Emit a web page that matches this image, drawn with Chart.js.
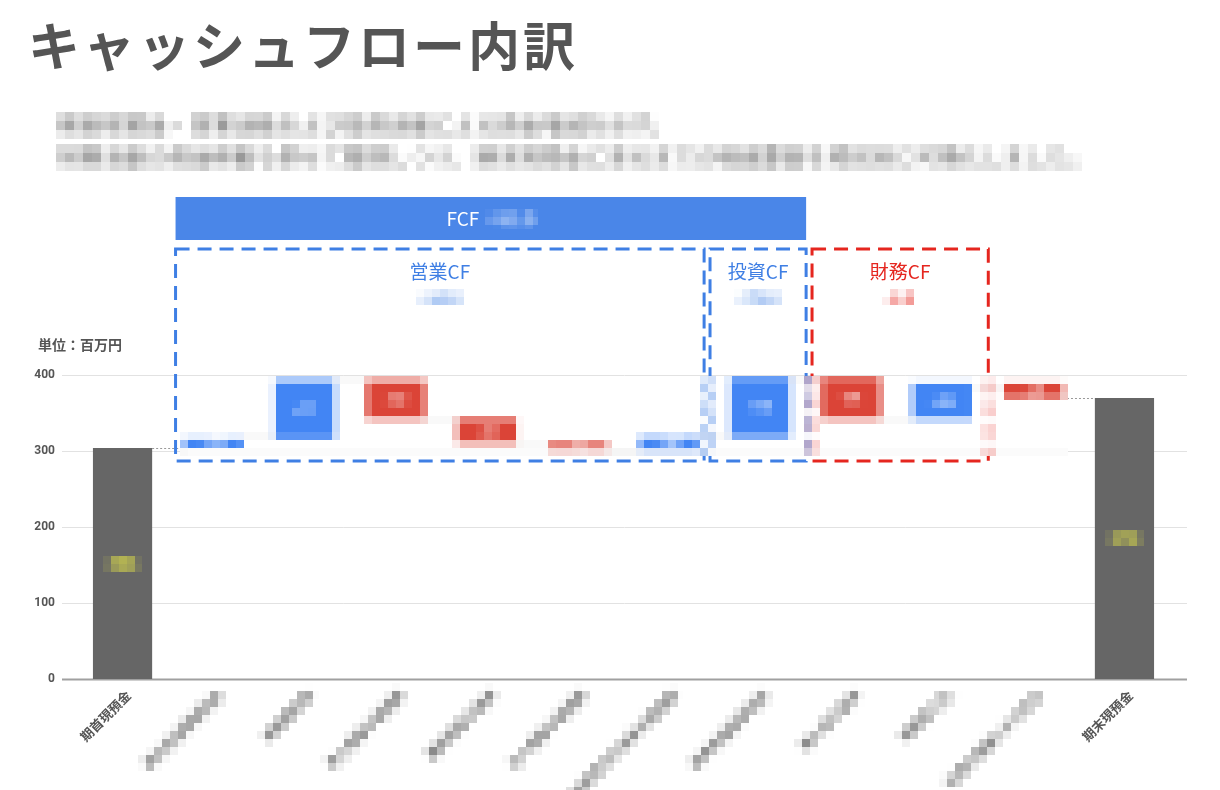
<!DOCTYPE html>
<html lang="ja">
<head>
<meta charset="utf-8">
<script src="https://cdn.jsdelivr.net/npm/chart.js@4.4.1/dist/chart.umd.min.js"></script>
<style>
html,body{margin:0;background:#fff;}
#wrap{position:relative;width:1220px;height:790px;overflow:hidden;}
#title{position:absolute;left:28px;top:18px;font:bold 52px/52px 'Noto Sans CJK JP',sans-serif;color:#555;letter-spacing:3px;z-index:2;white-space:nowrap;}
#chart{position:absolute;left:0;top:0;}
</style>
</head>
<body>
<div id="wrap">
  <div id="title">キャッシュフロー内訳</div>
  <canvas id="chart" width="1220" height="790"></canvas>
</div>
<script>
const FONT = "'Noto Sans CJK JP','Noto Sans',sans-serif";

// data
const categories = ['期首現預金','税引前当期純利益','減価償却費','売上債権の増減額','棚卸資産の増減','仕入債務の増減額',
  '社員賞与引当金の増減額','投資有価証券売却','借入金の返済','短期借入金','社債の償還による支出','期末現預金'];
const openingCash = 304;
const changes = [12, 77, -50, -32, -9, 16, 79, -54, 46, -19];
const yTicks = [0, 100, 200, 300, 400];
const unitLabel = '単位：百万円';
const subtitleLines = [
  '期首現預金・営業活動および投資活動による資金増減を示す。',
  '財務活動の資金移動も併せて整理しつつ、期末現預金に至るまでの増減要因を項目別に可視化しました。'
];
const groupNames = ['営業CF', '投資CF', '財務CF'];
const groupFirst = [1, 7, 8];
const groupLast = [6, 7, 9];

// floating ranges for the waterfall
const ranges = [[0, openingCash]];
let run = openingCash;
changes.forEach(c => { ranges.push([run, run + c]); run += c; });
const closingCash = run;
ranges.push([0, closingCash]);
const last = ranges.length - 1;
const colors = ranges.map((r, i) => (i === 0 || i === last) ? '#666666' : (r[1] >= r[0] ? '#4285f4' : '#db4437'));
const sign = v => (v >= 0 ? '+' : '') + v;
const groupValue = g => changes.slice(groupFirst[g] - 1, groupLast[g]).reduce((a, b) => a + b, 0);

function pixelate(chart, x, y, w, h, size){
  const ctx = chart.ctx, r = chart.currentDevicePixelRatio || 1;
  const cvs = ctx.canvas;
  let X = Math.round(x * r), Y = Math.round(y * r);
  let X2 = Math.round((x + w) * r), Y2 = Math.round((y + h) * r);
  X = Math.max(0, X); Y = Math.max(0, Y);
  X2 = Math.min(cvs.width, X2); Y2 = Math.min(cvs.height, Y2);
  const W = X2 - X, H = Y2 - Y, B = Math.max(1, Math.round(size * r));
  if (W <= 0 || H <= 0) return;
  const img = ctx.getImageData(X, Y, W, H), d = img.data;
  for (let by = 0; by < H; by += B){
    for (let bx = 0; bx < W; bx += B){
      const ey = Math.min(by + B, H), ex = Math.min(bx + B, W);
      let rs = 0, gs = 0, bs = 0, n = 0;
      for (let yy = by; yy < ey; yy++) for (let xx = bx; xx < ex; xx++){
        const k = (yy * W + xx) * 4; rs += d[k]; gs += d[k + 1]; bs += d[k + 2]; n++;
      }
      rs /= n; gs /= n; bs /= n;
      for (let yy = by; yy < ey; yy++) for (let xx = bx; xx < ex; xx++){
        const k = (yy * W + xx) * 4; d[k] = rs; d[k + 1] = gs; d[k + 2] = bs; d[k + 3] = 255;
      }
    }
  }
  ctx.putImageData(img, X, Y);
}

const cfPlugin = {
  id: 'cf',
  beforeDraw(chart){
    const c = chart.ctx;
    c.save(); c.fillStyle = '#fff'; c.fillRect(0, 0, chart.width, chart.height); c.restore();
  },
  beforeDatasetsDraw(chart){
    const {ctx, chartArea: a, scales: {y}} = chart;
    const bars = chart.getDatasetMeta(0).data;
    ctx.save();
    y.ticks.forEach(t => {
      const py = Math.round(y.getPixelForValue(t.value)) + 0.5;
      ctx.strokeStyle = t.value === 0 ? '#a0a0a0' : '#e2e2e2';
      ctx.lineWidth = t.value === 0 ? 2 : 1;
      ctx.beginPath(); ctx.moveTo(a.left - 15, py); ctx.lineTo(a.right + 17, py); ctx.stroke();
    });
    ctx.strokeStyle = '#999'; ctx.lineWidth = 1; ctx.setLineDash([2, 2]);
    for (let i = 0; i < bars.length - 1; i++){
      const py = Math.round(y.getPixelForValue(ranges[i][1])) + 0.5;
      ctx.beginPath();
      ctx.moveTo(bars[i].x + bars[i].width / 2, py);
      ctx.lineTo(bars[i + 1].x - bars[i + 1].width / 2, py);
      ctx.stroke();
    }
    ctx.restore();
  },
  afterDatasetsDraw(chart){
    const {ctx, chartArea: a, scales: {x}} = chart;
    const bars = chart.getDatasetMeta(0).data;
    const mos = chart.$mos = [];
    ctx.save();

    // subtitle (blurred in reference)
    ctx.font = '22px ' + FONT; ctx.fillStyle = '#555'; ctx.textAlign = 'left'; ctx.textBaseline = 'middle';
    subtitleLines.forEach((s, i) => {
      const yy = 125 + i * 32;
      ctx.fillText(s, 58, yy);
      mos.push([56, yy - 13, ctx.measureText(s).width + 4, 27, 9]);
    });

    // unit
    ctx.font = 'bold 14px ' + FONT; ctx.fillStyle = '#555';
    ctx.fillText(unitLabel, 38, 345);

    // value labels
    bars.forEach((b, i) => {
      const mid = (b.y + b.base) / 2;
      ctx.textAlign = 'center'; ctx.textBaseline = 'middle';
      if (i === 0 || i === last){
        const t = String(ranges[i][1]);
        ctx.font = 'bold 17px ' + FONT; ctx.fillStyle = '#ffff40';
        ctx.fillText(t, b.x, mid);
        const tw = ctx.measureText(t).width;
        mos.push([b.x - tw / 2 - 4, mid - 8, tw + 8, 16, 8]);
      } else {
        ctx.font = 'bold 13px ' + FONT; ctx.fillStyle = '#fff';
        ctx.fillText(sign(changes[i - 1]), b.x, mid);
      }
    });

    // x labels
    ctx.font = 'bold 13px ' + FONT; ctx.fillStyle = '#555'; ctx.textAlign = 'right'; ctx.textBaseline = 'middle';
    categories.forEach((lab, i) => {
      const px = x.getPixelForValue(i), py = a.bottom;
      ctx.save(); ctx.translate(px + 6, py + 14); ctx.rotate(-Math.PI / 4);
      ctx.fillText(lab, 0, 0); ctx.restore();
      if (i > 0 && i < last){
        const tw = ctx.measureText(lab).width * 0.7071;
        mos.push([px + 6 - tw - 8, py + 4, tw + 16, tw + 20, 8]);
      }
    });

    // group boxes
    const cw = x.getPixelForValue(1) - x.getPixelForValue(0);
    const insetL = [0.418, 0.55, 0.43], insetR = [0.385, 0.505, 0.505];
    const gx = groupNames.map((g, k) => [x.getPixelForValue(groupFirst[k]) - insetL[k] * cw, x.getPixelForValue(groupLast[k]) + insetR[k] * cw]);
    const blue = '#3f7fe4', red = '#e5261f';

    // FCF bar
    const fx0 = gx[0][0], fx1 = gx[1][1];
    ctx.fillStyle = '#4a86e8';
    ctx.fillRect(fx0, 197, fx1 - fx0, 43);
    const fcfVal = sign(groupValue(0) + groupValue(1)) + '.0';
    ctx.font = '19px ' + FONT; ctx.textAlign = 'left'; ctx.fillStyle = '#fff';
    const w1 = ctx.measureText('FCF  ').width, w2 = ctx.measureText(fcfVal).width;
    const fxs = (fx0 + fx1) / 2 - (w1 + w2) / 2;
    ctx.fillText('FCF', fxs, 219);
    ctx.fillText(fcfVal, fxs + w1, 219);
    mos.push([fxs + w1 - 3, 209, w2 + 6, 20, 8]);

    ctx.lineWidth = 3; ctx.setLineDash([14, 8]);
    groupNames.forEach((g, k) => {
      const col = k === 2 ? red : blue;
      ctx.strokeStyle = col;
      ctx.strokeRect(gx[k][0], 249, gx[k][1] - gx[k][0], 212);
      const cx = (gx[k][0] + gx[k][1]) / 2;
      ctx.fillStyle = col; ctx.textAlign = 'center';
      ctx.font = '19px ' + FONT;
      ctx.fillText(g, cx, 272);
      const v = sign(groupValue(k)) + '.0';
      ctx.font = 'bold 15px ' + FONT;
      ctx.fillText(v, cx, 298);
      const tw = ctx.measureText(v).width;
      mos.push([cx - tw / 2 - 4, 289, tw + 8, 18, 8]);
    });
    ctx.restore();

    // waterfall region (blurred in reference)
    const inner = bars.slice(1, last);
    const x0 = Math.min(...inner.map(b => b.x - b.width / 2)) - 4;
    const x1 = Math.max(...inner.map(b => b.x + b.width / 2)) + 5;
    const y0 = Math.min(...inner.map(b => Math.min(b.y, b.base))) - 1;
    const y1 = Math.max(...inner.map(b => Math.max(b.y, b.base))) + 6;
    mos.push([x0, y0, x1 - x0, y1 - y0, 8]);
  },
  afterDraw(chart){
    (chart.$mos || []).forEach(m => pixelate(chart, m[0], m[1], m[2], m[3], m[4]));
  }
};

new Chart(document.getElementById('chart'), {
  type: 'bar',
  data: {
    labels: categories,
    datasets: [{
      data: ranges,
      backgroundColor: colors,
      borderWidth: 0,
      categoryPercentage: 1,
      barPercentage: 0.65
    }]
  },
  options: {
    responsive: false,
    animation: false,
    layout: { padding: { top: 360, bottom: 111, left: 0, right: 50 } },
    plugins: { legend: { display: false }, tooltip: { enabled: false } },
    scales: {
      x: { display: false },
      y: {
        min: 0, max: 420,
        afterFit(s){ s.width = 77; },
        afterBuildTicks(s){ s.ticks = yTicks.map(v => ({ value: v })); },
        grid: { display: false },
        border: { display: false },
        ticks: { color: '#555', padding: 14, font: { size: 12, weight: 'bold', family: 'Roboto' } }
      }
    }
  },
  plugins: [cfPlugin]
});
</script>
</body>
</html>
